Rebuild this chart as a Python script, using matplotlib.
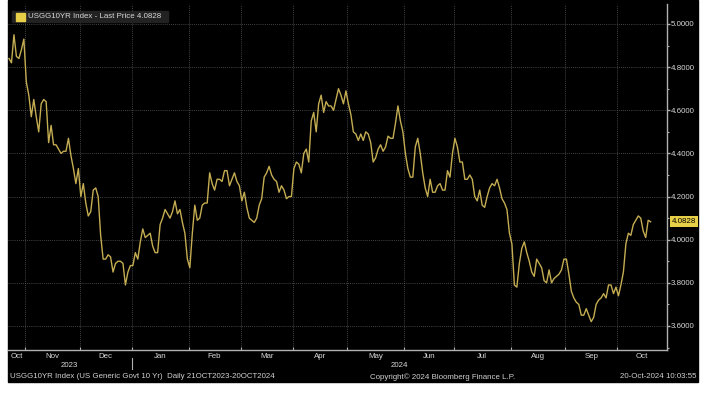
import numpy as np
import pandas as pd
import matplotlib
matplotlib.use("Agg")
import matplotlib.pyplot as plt
import matplotlib.transforms as mtransforms
from matplotlib.patches import Rectangle

plt.rcParams['font.family'] = ['Liberation Sans Narrow', 'Liberation Sans', 'DejaVu Sans']
FS = 5.7

# USGG10YR daily closes, one value per weekday 23-Oct-2023 .. 18-Oct-2024
oct23 = [4.84, 4.82, 4.95, 4.85, 4.84, 4.88, 4.93]
nov23 = [4.73, 4.67, 4.57, 4.65, 4.57, 4.50, 4.63, 4.65, 4.64, 4.45, 4.53,
         4.44, 4.44, 4.42, 4.40, 4.41, 4.41, 4.47, 4.39, 4.33, 4.26, 4.33]
dec23 = [4.20, 4.26, 4.17, 4.11, 4.13, 4.23, 4.24, 4.20, 4.02, 3.91, 3.91,
         3.93, 3.92, 3.85, 3.89, 3.90, 3.90, 3.89, 3.79, 3.85, 3.88]
jan24 = [3.88, 3.94, 3.91, 3.99, 4.05, 4.01, 4.02, 4.03, 3.97, 3.94, 3.94, 4.07,
         4.10, 4.14, 4.12, 4.10, 4.13, 4.18, 4.12, 4.14, 4.08, 4.03, 3.91]
feb24 = [3.87, 4.03, 4.16, 4.09, 4.10, 4.16, 4.17, 4.17, 4.31, 4.26, 4.23,
         4.28, 4.28, 4.27, 4.32, 4.32, 4.25, 4.28, 4.31, 4.27, 4.25]
mar24 = [4.18, 4.22, 4.15, 4.10, 4.09, 4.08, 4.10, 4.16, 4.19, 4.29, 4.31,
         4.34, 4.30, 4.28, 4.27, 4.22, 4.25, 4.23, 4.19, 4.20, 4.20]
apr24 = [4.33, 4.36, 4.35, 4.31, 4.40, 4.42, 4.36, 4.55, 4.59, 4.50, 4.63,
         4.67, 4.59, 4.64, 4.62, 4.62, 4.60, 4.65, 4.70, 4.67, 4.63, 4.69]
may24 = [4.63, 4.58, 4.50, 4.49, 4.46, 4.49, 4.46, 4.50, 4.49, 4.45, 4.36, 4.38,
         4.42, 4.44, 4.41, 4.43, 4.48, 4.47, 4.47, 4.54, 4.62, 4.55, 4.50]
jun24 = [4.40, 4.33, 4.29, 4.29, 4.43, 4.47, 4.40, 4.31, 4.24, 4.20,
         4.28, 4.22, 4.22, 4.25, 4.26, 4.23, 4.23, 4.32, 4.29, 4.40]
jul24 = [4.47, 4.43, 4.36, 4.36, 4.28, 4.28, 4.30, 4.28, 4.20, 4.18, 4.23, 4.16,
         4.15, 4.20, 4.24, 4.26, 4.25, 4.28, 4.24, 4.19, 4.17, 4.14, 4.03]
aug24 = [3.98, 3.79, 3.78, 3.89, 3.96, 3.99, 3.94, 3.90, 3.85, 3.83, 3.91,
         3.89, 3.87, 3.81, 3.80, 3.86, 3.80, 3.82, 3.83, 3.84, 3.86, 3.91]
sep24 = [3.91, 3.84, 3.76, 3.73, 3.71, 3.70, 3.65, 3.65, 3.68, 3.65, 3.62,
         3.64, 3.70, 3.72, 3.73, 3.75, 3.73, 3.79, 3.79, 3.75, 3.78]
oct24 = [3.74, 3.79, 3.85, 3.98, 4.03, 4.02, 4.07, 4.09, 4.11, 4.10, 4.04,
         4.01, 4.09, 4.0828]

last_price = 4.0828
month_names = ["Oct", "Nov", "Dec", "Jan", "Feb", "Mar", "Apr",
               "May", "Jun", "Jul", "Aug", "Sep", "Oct"]
y_ticks = [3.6, 3.8, 4.0, 4.2, 4.4, 4.6, 4.8, 5.0]

yields = (oct23 + nov23 + dec23 + jan24 + feb24 + mar24 + apr24 + may24 +
          jun24 + jul24 + aug24 + sep24 + oct24)
dates = pd.bdate_range("2023-10-23", "2024-10-18")
idx = np.arange(len(dates))

# month boundaries in index units (half a day before the first weekday)
months = np.asarray(dates.month)
month_start = np.where(months[1:] != months[:-1])[0] + 1
edges = month_start - 0.5

W, H = 710, 397
fig = plt.figure(figsize=(W / 100, H / 100), dpi=100, facecolor="white")
fig.patches.append(Rectangle((8 / W, 15 / H), 690 / W, 382 / H,
                             transform=fig.transFigure, color="black", zorder=-10))

ax = fig.add_axes([8 / W, 47 / H, 659 / W, 346 / H])
ax.set_facecolor("black")
x0, x1 = -0.4, 265.6
ax.set_xlim(x0, x1)
ax.set_ylim(3.4886, 5.0927)

ax.plot(idx, yields, color="#c4ad52", lw=1.0)

# axes styling
for s in ["left", "top"]:
    ax.spines[s].set_visible(False)
for s in ["right", "bottom"]:
    ax.spines[s].set_color("#b0b0b0")
    ax.spines[s].set_linewidth(1.0)

ax.yaxis.tick_right()
ax.set_yticks(y_ticks)
ax.set_yticklabels(["%.4f" % v for v in y_ticks])
ax.set_yticks(np.arange(3.5, 5.05, 0.1), minor=True)
ax.tick_params(axis="y", which="major", colors="#b0b0b0", labelcolor="#d8d8d8",
               labelsize=FS, length=2.5, width=1, pad=0.5)
ax.tick_params(axis="y", which="minor", colors="#b0b0b0", length=1.5, width=0.8)

ax.set_xticks(edges)
ax.set_xticklabels([])
ax.tick_params(axis="x", colors="#b0b0b0", direction="in", length=2, width=0.8)

ax.grid(True, which="major", color="#5a5a5a", linestyle=(0, (1, 1.5)), linewidth=0.6)

# month and year labels
trans = mtransforms.blended_transform_factory(ax.transData, ax.transAxes)
bounds = np.concatenate([[x0], edges, [x1]])
for i, name in enumerate(month_names):
    ax.text((bounds[i] + bounds[i + 1]) / 2, -0.018, name, transform=trans,
            ha="center", va="center", color="#d8d8d8", fontsize=FS)
jan_edge = edges[2]
ax.text((x0 + jan_edge) / 2, -0.045, "2023", transform=trans, ha="center",
        va="center", color="#d8d8d8", fontsize=FS)
ax.text((jan_edge + x1) / 2, -0.045, "2024", transform=trans, ha="center",
        va="center", color="#d8d8d8", fontsize=FS)
ax.plot([jan_edge, jan_edge], [-0.024, -0.054], transform=trans, color="#b0b0b0",
        lw=0.8, clip_on=False)

# last price tag on the axis
ax.annotate("%.4f" % last_price, xy=(1.0, last_price),
            xycoords=("axes fraction", "data"), xytext=(1.007, last_price),
            textcoords=("axes fraction", "data"), ha="left", va="center",
            fontsize=FS, color="black",
            bbox=dict(boxstyle="square,pad=0.25", fc="#e8cf48", ec="none"))

# header legend (drawn above the axes)
fig.patches.append(Rectangle((12 / W, (H - 22) / H), 156 / W, 11 / H,
                             transform=fig.transFigure, color="#222222", zorder=3))
fig.patches.append(Rectangle((16 / W, (H - 21) / H), 9 / W, 8 / H,
                             transform=fig.transFigure, color="#e8cf48", zorder=4))
fig.text(28 / W, (H - 16.5) / H, "USGG10YR Index - Last Price 4.0828",
         color="#d8d8d8", fontsize=FS, va="center", ha="left", zorder=5)

# footer
fy = (H - 377) / H
fig.text(10 / W, fy, "USGG10YR Index (US Generic Govt 10 Yr)  Daily 21OCT2023-20OCT2024",
         color="#d0d0d0", fontsize=FS, va="center", ha="left")
fig.text(370 / W, fy, "Copyright\u00a9 2024 Bloomberg Finance L.P.",
         color="#d0d0d0", fontsize=FS, va="center", ha="left")
fig.text(697 / W, fy, "20-Oct-2024 10:03:55",
         color="#d0d0d0", fontsize=FS, va="center", ha="right")

fig.savefig("out.png", dpi=100, facecolor="white")
